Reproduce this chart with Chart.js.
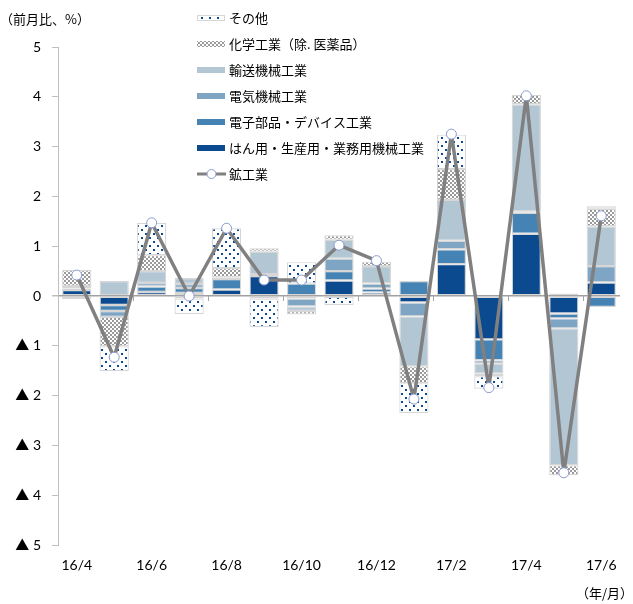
<!DOCTYPE html>
<html>
<head>
<meta charset="utf-8">
<script src="https://cdn.jsdelivr.net/npm/chart.js@4.4.0/dist/chart.umd.min.js"></script>
<style>
  html, body { margin: 0; padding: 0; background: #fff; }
</style>
</head>
<body>
<canvas id="chart" width="633" height="604"></canvas>
<script>
const months = ["16/4", "16/5", "16/6", "16/7", "16/8", "16/9", "16/10", "16/11", "16/12", "17/1", "17/2", "17/3", "17/4", "17/5", "17/6"];

// 寄与度（前月比、%）
const hanyou  = [0.12, -0.18, 0.08, 0.06, 0.13, 0.40, -0.05, 0.31, 0.07, -0.13, 0.64, -0.87, 1.25, -0.35, 0.27];
const denshi  = [0.03, -0.12, 0.11, 0.10, 0.21, -0.05, 0.25, 0.19, 0.08, 0.30, 0.30, -0.42, 0.42, -0.10, -0.22];
const denki   = [0.03, -0.12, 0.07, 0.08, 0.03, 0.04, -0.16, 0.25, 0.10, -0.28, 0.17, -0.07, 0.03, -0.20, 0.33];
const yusou   = [0.02, 0.30, 0.24, 0.12, 0.00, 0.45, -0.09, 0.38, 0.35, -1.00, 0.82, -0.20, 2.15, -2.75, 0.80];
const kagaku  = [0.32, -0.59, 0.32, -0.05, 0.19, 0.07, -0.07, 0.09, 0.09, -0.34, 0.62, -0.05, 0.19, -0.20, 0.35];
const sonota  = [-0.06, -0.50, 0.65, -0.31, 0.80, -0.57, 0.43, -0.18, 0.00, -0.60, 0.69, -0.25, -0.03, 0.05, 0.05];
const koukou  = [0.42, -1.23, 1.47, 0.00, 1.36, 0.32, 0.32, 1.02, 0.71, -2.07, 3.25, -1.84, 4.02, -3.55, 1.61];

const yTicks = [-5, -4, -3, -2, -1, 0, 1, 2, 3, 4, 5];

const canvas = document.getElementById("chart");
const ctx = canvas.getContext("2d");

function makePattern(w, h, draw) {
  const c = document.createElement("canvas");
  c.width = w; c.height = h;
  const g = c.getContext("2d");
  draw(g);
  return ctx.createPattern(c, "repeat");
}

const dotPattern = makePattern(8, 8, g => {
  g.fillStyle = "#fff";
  g.fillRect(0, 0, 8, 8);
  g.fillStyle = "#0b4a92";
  g.fillRect(1, 1, 2, 2);
  g.fillRect(5, 5, 2, 2);
});

const checkPattern = makePattern(4, 4, g => {
  g.fillStyle = "#fff";
  g.fillRect(0, 0, 4, 4);
  g.fillStyle = "#9a9a9a";
  g.fillRect(0, 0, 2, 2);
  g.fillRect(2, 2, 2, 2);
});

const barBorder = "#d6d6d6";
function barSet(label, data, color) {
  return {
    type: "bar", label, data, backgroundColor: color,
    borderColor: barBorder, borderWidth: 1.2, borderSkipped: false,
    stack: "s", categoryPercentage: 1, barPercentage: 0.78
  };
}

const datasets = [
  barSet("はん用・生産用・業務用機械工業", hanyou, "#0b4a8f"),
  barSet("電子部品・デバイス工業", denshi, "#4683b5"),
  barSet("電気機械工業", denki, "#7ea6c4"),
  barSet("輸送機械工業", yusou, "#b3c6d4"),
  barSet("化学工業（除. 医薬品）", kagaku, checkPattern),
  barSet("その他", sonota, dotPattern),
  {
    type: "line", label: "鉱工業", data: koukou, stack: "line", order: -1,
    borderColor: "#808080", borderWidth: 3.5, borderJoinStyle: "round", borderCapStyle: "round",
    pointRadius: 5, pointBackgroundColor: "#fff", pointBorderColor: "#8a9bd0", pointBorderWidth: 1,
    tension: 0
  }
];

const legendOrder = [5, 4, 3, 2, 1, 0, 6];
const tickFont = "'Lato', 'Noto Sans CJK JP', sans-serif";
const jpFont = "'Noto Sans CJK JP', sans-serif";

const extras = {
  id: "extras",
  afterDatasetsDraw(chart) {
    // small tick marks under the zero line, every two months
    const x = chart.scales.x, y = chart.scales.y;
    const y0 = y.getPixelForValue(0);
    const g = chart.ctx;
    g.save();
    g.strokeStyle = "#a6a6a6";
    g.lineWidth = 1;
    for (let i = 1; i < months.length; i += 2) {
      const px = Math.round(x.getPixelForValue(i + 0.5)) + 0.5;
      g.beginPath();
      g.moveTo(px, y0);
      g.lineTo(px, y0 + 5);
      g.stroke();
    }
    g.restore();
  },
  afterDraw(chart) {
    const g = chart.ctx;
    g.save();
    g.fillStyle = "#000";
    g.font = "13px " + jpFont;
    g.textBaseline = "middle";
    g.textAlign = "left";
    g.fillText("（前月比、%）", 0, 19);
    g.textAlign = "right";
    g.fillText("（年/月）", 633, 593);

    // legend
    g.textAlign = "left";
    legendOrder.forEach((di, k) => {
      const ds = chart.data.datasets[di];
      const cy = 18 + k * 26;
      if (ds.type === "line") {
        g.strokeStyle = ds.borderColor;
        g.lineWidth = 3;
        g.beginPath();
        g.moveTo(197, cy); g.lineTo(226, cy);
        g.stroke();
        g.beginPath();
        g.arc(211.5, cy, 4.5, 0, Math.PI * 2);
        g.fillStyle = "#fff";
        g.fill();
        g.strokeStyle = ds.pointBorderColor;
        g.lineWidth = 1;
        g.stroke();
      } else {
        g.fillStyle = ds.backgroundColor;
        g.fillRect(197, cy - 3, 28, 6);
        if (di === 5) {
          g.strokeStyle = "#d6d6d6";
          g.lineWidth = 1;
          g.strokeRect(197.5, cy - 2.5, 27, 5);
        }
      }
      g.fillStyle = "#000";
      g.font = "13px " + jpFont;
      g.fillText(ds.label, 229, cy);
    });
    g.restore();
  }
};

new Chart(ctx, {
  data: { labels: months, datasets },
  options: {
    responsive: false,
    animation: false,
    layout: { padding: { top: 47, right: 13, bottom: 0, left: 0 } },
    plugins: { legend: { display: false }, tooltip: { enabled: false } },
    scales: {
      x: {
        stacked: true,
        offset: true,
        grid: { display: false, drawTicks: false },
        border: { display: false },
        ticks: {
          autoSkip: false, maxRotation: 0, padding: 12,
          color: "#000", font: { size: 14, family: tickFont },
          callback: (v, i) => (i % 2 === 0 ? months[i] : "")
        },
        afterFit: s => { s.height = 59; }
      },
      y: {
        stacked: true,
        min: -5, max: 5,
        afterBuildTicks: s => { s.ticks = yTicks.map(v => ({ value: v })); },
        grid: {
          drawOnChartArea: true,
          color: c => (c.tick && c.tick.value === 0 ? "#a0a0a0" : "rgba(0,0,0,0)"),
          lineWidth: c => (c.tick && c.tick.value === 0 ? 1.5 : 1),
          tickColor: "#bfbfbf", tickLength: 6
        },
        border: { color: "#bfbfbf", width: 1 },
        ticks: {
          padding: 11, color: "#000", font: { size: 14, family: tickFont },
          callback: v => (v < 0 ? "▲ " + (-v) : String(v))
        },
        afterFit: s => { s.width = 58; }
      }
    }
  },
  plugins: [extras]
});
</script>
</body>
</html>
